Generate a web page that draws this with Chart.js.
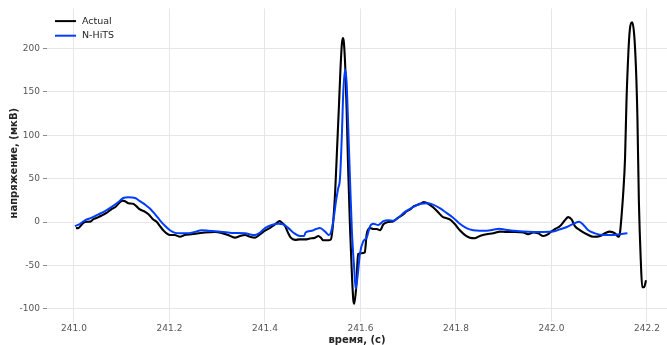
<!DOCTYPE html>
<html>
<head>
<meta charset="utf-8">
<script src="https://cdn.jsdelivr.net/npm/chart.js@4/dist/chart.umd.min.js"></script>
<style>
  html, body { margin: 0; padding: 0; background: #fff; overflow: hidden; }
  #wrap { width: 667px; height: 345px; }
</style>
</head>
<body>
<div id="wrap"><canvas id="c" width="667" height="345"></canvas></div>
<script>
// ECG segment: recorded signal vs N-HiTS forecast
const actualTime = [
  241.004, 241.009, 241.016, 241.023, 241.034, 241.040, 241.048, 241.058, 241.068, 241.079,
  241.086, 241.093, 241.101, 241.107, 241.114, 241.124, 241.131, 241.138, 241.149, 241.156,
  241.166, 241.173, 241.180, 241.187, 241.194, 241.201, 241.211, 241.222, 241.232, 241.246,
  241.260, 241.274, 241.295, 241.309, 241.323, 241.337, 241.348, 241.358, 241.369, 241.379,
  241.390, 241.400, 241.410, 241.421, 241.431, 241.436, 241.442, 241.448, 241.454, 241.463,
  241.473, 241.484, 241.494, 241.505, 241.512, 241.517, 241.522, 241.533, 241.538, 241.542,
  241.547, 241.551, 241.555, 241.558, 241.561, 241.563, 241.565, 241.568, 241.571, 241.574,
  241.578, 241.582, 241.585, 241.587, 241.591, 241.595, 241.602, 241.609, 241.613, 241.620,
  241.627, 241.634, 241.641, 241.648, 241.658, 241.669, 241.679, 241.690, 241.697, 241.704,
  241.711, 241.718, 241.725, 241.733, 241.742, 241.752, 241.763, 241.770, 241.773, 241.780,
  241.787, 241.798, 241.808, 241.819, 241.829, 241.840, 241.850, 241.864, 241.878, 241.892,
  241.906, 241.923, 241.941, 241.951, 241.962, 241.972, 241.983, 241.993, 241.997, 242.007,
  242.018, 242.028, 242.035, 242.042, 242.049, 242.060, 242.074, 242.088, 242.102, 242.112,
  242.122, 242.133, 242.140, 242.143, 242.147, 242.150, 242.154, 242.157, 242.161, 242.164,
  242.169, 242.173, 242.177, 242.180, 242.183, 242.187, 242.190, 242.194, 242.198
];
const actualValues = [
  -7, -7, -3, 0, 0.5, 3, 5, 7.5, 10.5, 15,
  17, 21, 24.7, 24, 21.6, 21, 18, 14.5, 11.7, 9,
  3, 0.3, -4.6, -9.5, -13, -15, -15, -17, -15, -14,
  -13, -12, -11.4, -12.5, -15, -18, -16, -15, -17, -18,
  -14, -10, -7, -2.6, 1, -1, -4.6, -12, -18, -20.5,
  -20, -20, -19, -18, -16, -18, -21, -21, -20, -5,
  35, 85, 135, 175, 205, 212, 208, 180, 130, 65,
  -5, -60, -90, -94, -75, -37, -36, -35, -14, -7,
  -8, -8, -9.5, -2.6, 0, 1, 5, 9, 12.5, 14.5,
  18, 19.5, 21, 23, 21, 17, 11, 7, 5.7, 4.5,
  3, -2.6, -9.5, -15, -18, -18.6, -16, -14, -13, -11,
  -11.4, -11.4, -12, -14, -12, -13, -16, -14, -12, -8.3,
  -4.6, 2, 5.7, 3, -4.6, -9.5, -14, -17, -16, -13,
  -11, -13, -17, -14, 8.8, 31.5, 73, 138, 195, 221,
  230, 217, 176, 119, 24, -44, -75, -75, -67
];

const forecastTime = [
  241.002, 241.013, 241.023, 241.037, 241.051, 241.065, 241.079, 241.093, 241.103, 241.114,
  241.128, 241.138, 241.149, 241.159, 241.170, 241.180, 241.191, 241.201, 241.212, 241.222,
  241.236, 241.253, 241.267, 241.281, 241.302, 241.330, 241.358, 241.379, 241.390, 241.400,
  241.414, 241.428, 241.438, 241.449, 241.459, 241.473, 241.482, 241.485, 241.498, 241.507,
  241.515, 241.526, 241.534, 241.538, 241.543, 241.549, 241.553, 241.557, 241.561, 241.564,
  241.568, 241.571, 241.574, 241.578, 241.582, 241.587, 241.590, 241.594, 241.599, 241.606,
  241.613, 241.620, 241.627, 241.637, 241.648, 241.658, 241.669, 241.679, 241.693, 241.711,
  241.725, 241.739, 241.752, 241.766, 241.780, 241.794, 241.808, 241.822, 241.836, 241.850,
  241.864, 241.878, 241.891, 241.903, 241.920, 241.941, 241.962, 241.983, 242.004, 242.018,
  242.032, 242.046, 242.058, 242.067, 242.077, 242.091, 242.108, 242.126, 242.143, 242.159
];
const forecastValues = [
  -4.6, -2, 2, 5, 8.8, 12.5, 17.4, 23, 27.7, 28.5,
  27.7, 24, 20, 15.6, 8.8, 2, -4.6, -9.5, -12.5, -13,
  -13, -11.4, -9.5, -10, -11, -12.5, -13, -15, -12, -7,
  -3.4, -2, -2.6, -7, -12, -16, -16, -12, -10, -8,
  -7, -11, -15, -12, 1, 25, 38, 50, 100, 150,
  176, 160, 115, 50, -10, -55, -77, -62, -36, -22,
  -18, -5, -2, -3.4, 1, 2, 1.5, 5, 11.7, 17.4,
  21, 21.6, 20, 16, 10.6, 5, -2, -7, -9.5, -10,
  -10, -9, -7.6, -9, -10, -11, -11.4, -11.4, -11, -8.3,
  -5.7, -2, 0.3, -3.4, -9.5, -13, -15, -15, -14, -13
];

const xTicks = [241.0, 241.2, 241.4, 241.6, 241.8, 242.0, 242.2];
const yTicks = [-100, -50, 0, 50, 100, 150, 200];

const seriesNames = ['Actual', 'N-HiTS'];
const seriesColors = ['#000000', '#003DFD'];

const FONT = "'DejaVu Sans', sans-serif";

function toPoints(ts, vs) {
  return ts.map((t, i) => ({ x: t, y: vs[i] }));
}

// Legend drawn in the upper-left corner of the plot area, without a frame
const cornerLegend = {
  id: 'cornerLegend',
  afterDraw(chart) {
    const ctx = chart.ctx;
    const area = chart.chartArea;
    ctx.save();
    ctx.font = "9.5px " + FONT;
    ctx.textBaseline = 'middle';
    seriesNames.forEach((name, i) => {
      const y = area.top + 12.7 + i * 14.6;
      ctx.strokeStyle = seriesColors[i];
      ctx.lineWidth = 2;
      ctx.beginPath();
      ctx.moveTo(area.left + 8, y);
      ctx.lineTo(area.left + 29, y);
      ctx.stroke();
      ctx.fillStyle = '#262626';
      ctx.fillText(name, area.left + 35, y);
    });
    ctx.restore();
  }
};

new Chart(document.getElementById('c'), {
  type: 'line',
  data: {
    datasets: [
      {
        label: seriesNames[0],
        data: toPoints(actualTime, actualValues),
        borderColor: seriesColors[0],
        borderWidth: 2.1,
        pointRadius: 0,
        cubicInterpolationMode: 'monotone',
        order: 1
      },
      {
        label: seriesNames[1],
        data: toPoints(forecastTime, forecastValues),
        borderColor: seriesColors[1],
        borderWidth: 2,
        pointRadius: 0,
        cubicInterpolationMode: 'monotone',
        order: 0
      }
    ]
  },
  options: {
    responsive: false,
    animation: false,
    devicePixelRatio: 1,
    layout: { padding: { top: 5, right: 0, bottom: 0, left: 0 } },
    plugins: {
      legend: { display: false },
      tooltip: { enabled: false }
    },
    scales: {
      x: {
        type: 'linear',
        min: 240.9435,
        max: 242.2419,
        border: { display: false },
        grid: { color: '#e6e6e6', lineWidth: 1, tickLength: 4, tickColor: '#e6e6e6' },
        afterBuildTicks(scale) { scale.ticks = xTicks.map(v => ({ value: v })); },
        afterFit(scale) { scale.height = 27; },
        ticks: {
          padding: 1,
          color: '#555',
          font: { family: FONT, size: 9 },
          maxRotation: 0,
          callback: v => Number(v).toFixed(1)
        },
        title: {
          display: true,
          text: 'время, (с)',
          color: '#262626',
          font: { family: FONT, size: 10, weight: 'bold', lineHeight: 0.9 },
          padding: { top: 0, bottom: 0 }
        }
      },
      y: {
        type: 'linear',
        min: -110.5,
        max: 246,
        border: { display: false },
        grid: { color: '#e6e6e6', lineWidth: 1, tickLength: 4, tickColor: '#8c8c8c' },
        afterBuildTicks(scale) { scale.ticks = yTicks.map(v => ({ value: v })); },
        afterFit(scale) { scale.width = 47; },
        ticks: {
          padding: 3,
          color: '#555',
          font: { family: FONT, size: 9 }
        },
        title: {
          display: true,
          text: 'напряжение, (мкВ)',
          color: '#262626',
          font: { family: FONT, size: 10, weight: 'bold', lineHeight: 1.2 },
          padding: { top: 8, bottom: 0 }
        }
      }
    }
  },
  plugins: [cornerLegend]
});
</script>
</body>
</html>
